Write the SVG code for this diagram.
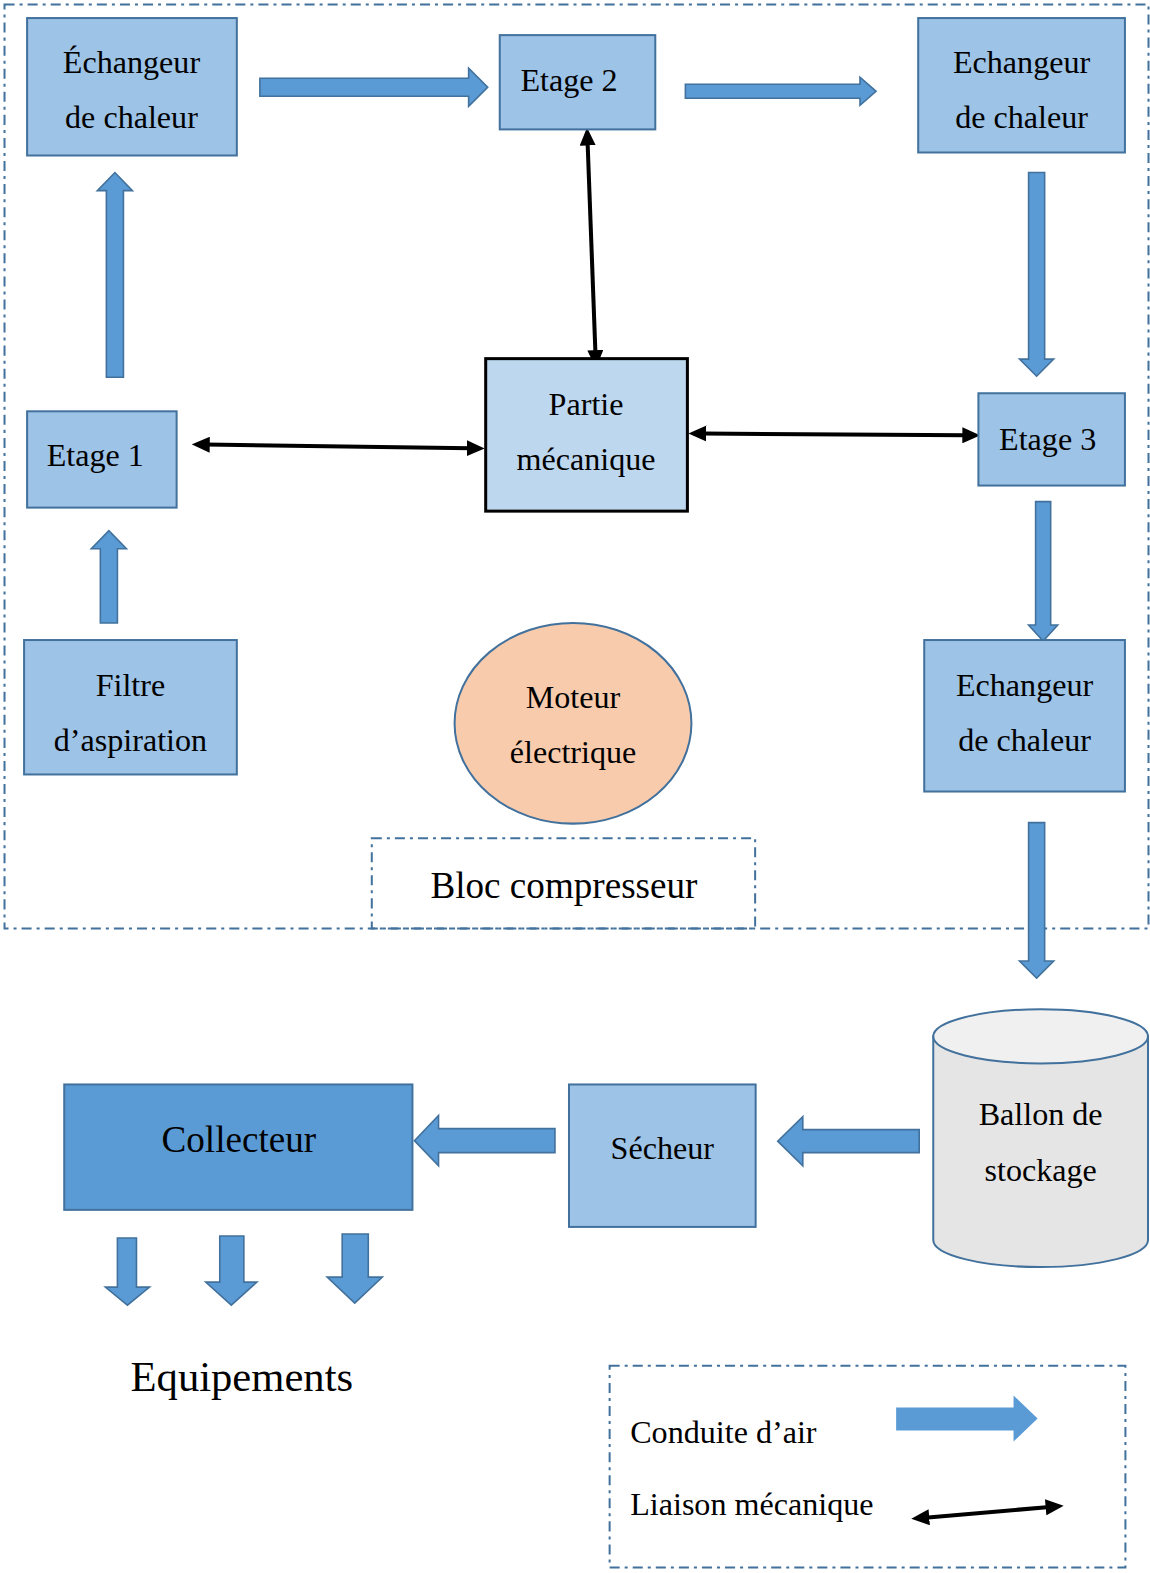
<svg xmlns="http://www.w3.org/2000/svg" width="1150" height="1573" viewBox="0 0 1150 1573">
  <style>
    .box { fill: #9DC3E6; stroke: #41719C; stroke-width: 2; }
    .mech { fill: #BDD7EE; stroke: #000; stroke-width: 3; }
    .dash { fill: none; stroke: #41719C; stroke-width: 2; stroke-dasharray: 10 5 3 5; }
    .flow { fill: #5B9BD5; stroke: #41719C; stroke-width: 1.6; stroke-linejoin: miter; }
    .link { stroke: #000; stroke-width: 4; fill: none; marker-start: url(#head); marker-end: url(#head); }
    text { font-family: "Liberation Serif", "Times New Roman", serif; font-size: 32px; fill: #000; text-anchor: middle; }
  </style>
  <defs>
    <marker id="head" viewBox="0 0 18 16" refX="4" refY="8" markerWidth="18" markerHeight="16" markerUnits="userSpaceOnUse" orient="auto-start-reverse">
      <path d="M0,0 L18,8 L0,16 z" fill="#000"/>
    </marker>
  </defs>

  <rect width="1150" height="1573" fill="#fff"/>

  <g transform="scale(1.0035,1.0032)">
  <!-- compressor block outline -->
  <rect class="dash" x="4.5" y="4.5" width="1140" height="921"/>

  <!-- air ducts and mechanical links -->
  <g id="connectors">
    <polygon class="flow" points="259,78 467,78 467,68 486,87 467,106 467,96 259,96"/>
    <polygon class="flow" points="683,84 857,84 857,77 873,91 857,105 857,98 683,98"/>
    <polygon class="flow" points="106,376 106,190 97,190 114.5,172 132,190 123,190 123,376"/>
    <polygon class="flow" points="100,621 100,547 91,547 108.5,529 126,547 117,547 117,621"/>
    <polygon class="flow" points="1025,172 1041,172 1041,358 1050,358 1033,375 1016,358 1025,358"/>
    <polygon class="flow" points="1032,500 1047,500 1047,623 1054,623 1039.5,639 1025,623 1032,623"/>
    <polygon class="flow" points="1025,820 1041,820 1041,958 1050,958 1033,975 1016,958 1025,958"/>
    <polygon class="flow" points="916,1126 800,1126 800,1113 775,1137.5 800,1162 800,1149 916,1149"/>
    <polygon class="flow" points="553,1125 437,1125 437,1112 413,1137 437,1162 437,1149 553,1149"/>
    <polygon class="flow" points="117,1234 136,1234 136,1283 149,1283 127,1301 105,1283 117,1283"/>
    <polygon class="flow" points="219,1232 243,1232 243,1278 256,1278 230.5,1301 205,1278 219,1278"/>
    <polygon class="flow" points="341,1230 367,1230 367,1273 381,1273 353.5,1299 326,1273 341,1273"/>

    <line class="link" x1="585.5" y1="141" x2="593.4" y2="353"/>
    <line class="link" x1="205" y1="443.2" x2="469" y2="446.8"/>
    <line class="link" x1="700" y1="432.1" x2="963" y2="433.9"/>
  </g>

  <g id="echangeur-1">
    <rect class="box" x="27" y="18" width="209" height="137"/>
    <text x="131" y="73">Échangeur</text>
    <text x="131" y="128">de chaleur</text>
  </g>

  <g id="etage-2">
    <rect class="box" x="498" y="35" width="155" height="94"/>
    <text x="567" y="91">Etage 2</text>
  </g>

  <g id="echangeur-2">
    <rect class="box" x="915" y="18" width="206" height="134"/>
    <text x="1018" y="73">Echangeur</text>
    <text x="1018" y="128">de chaleur</text>
  </g>

  <g id="etage-1">
    <rect class="box" x="27" y="410" width="149" height="96"/>
    <text x="95" y="465">Etage 1</text>
  </g>

  <g id="partie-mecanique">
    <rect class="mech" x="484" y="357.5" width="201" height="152"/>
    <text x="584" y="414">Partie</text>
    <text x="584" y="469">mécanique</text>
  </g>

  <g id="etage-3">
    <rect class="box" x="975" y="392" width="146" height="92"/>
    <text x="1044" y="449">Etage 3</text>
  </g>

  <g id="filtre">
    <rect class="box" x="24" y="638" width="212" height="134"/>
    <text x="130" y="694">Filtre</text>
    <text x="130" y="749">d’aspiration</text>
  </g>

  <g id="moteur">
    <ellipse cx="571" cy="721" rx="118" ry="100" fill="#F8CBAD" stroke="#41719C" stroke-width="2"/>
    <text x="571" y="706">Moteur</text>
    <text x="571" y="761">électrique</text>
  </g>

  <g id="echangeur-3">
    <rect class="box" x="921" y="638" width="200" height="151"/>
    <text x="1021" y="694">Echangeur</text>
    <text x="1021" y="749">de chaleur</text>
  </g>

  <g id="bloc-compresseur">
    <rect class="dash" x="370.5" y="835.5" width="382" height="90"/>
    <text x="562" y="895" style="font-size:37px">Bloc compresseur</text>
  </g>

  <g id="ballon">
    <path d="M930,1033 L930,1236 A107,27 0 0 0 1144,1236 L1144,1033 Z" fill="#E5E5E5" stroke="#41719C" stroke-width="2"/>
    <ellipse cx="1037" cy="1033" rx="107" ry="27" fill="#F0F0F0" stroke="#41719C" stroke-width="2"/>
    <text x="1037" y="1121">Ballon de</text>
    <text x="1037" y="1177">stockage</text>
  </g>

  <g id="secheur">
    <rect class="box" x="567" y="1081" width="186" height="142"/>
    <text x="660" y="1155">Sécheur</text>
  </g>

  <g id="collecteur">
    <rect x="64" y="1081" width="347" height="125" fill="#5B9BD5" stroke="#41719C" stroke-width="2"/>
    <text x="238" y="1148" style="font-size:37px">Collecteur</text>
  </g>

  <g id="equipements">
    <text x="241" y="1387" style="font-size:42.5px">Equipements</text>
  </g>

  <g id="legende">
    <rect class="dash" x="607.5" y="1361.5" width="514" height="201"/>
    <text x="628" y="1438" style="text-anchor:start">Conduite d’air</text>
    <polygon points="893,1403 1010,1403 1010,1391 1034,1414 1010,1437 1010,1426 893,1426" fill="#5B9BD5"/>
    <text x="628" y="1510" style="text-anchor:start">Liaison mécanique</text>
    <line class="link" x1="922" y1="1512.8" x2="1046" y2="1502.2"/>
  </g>
  </g>
</svg>
